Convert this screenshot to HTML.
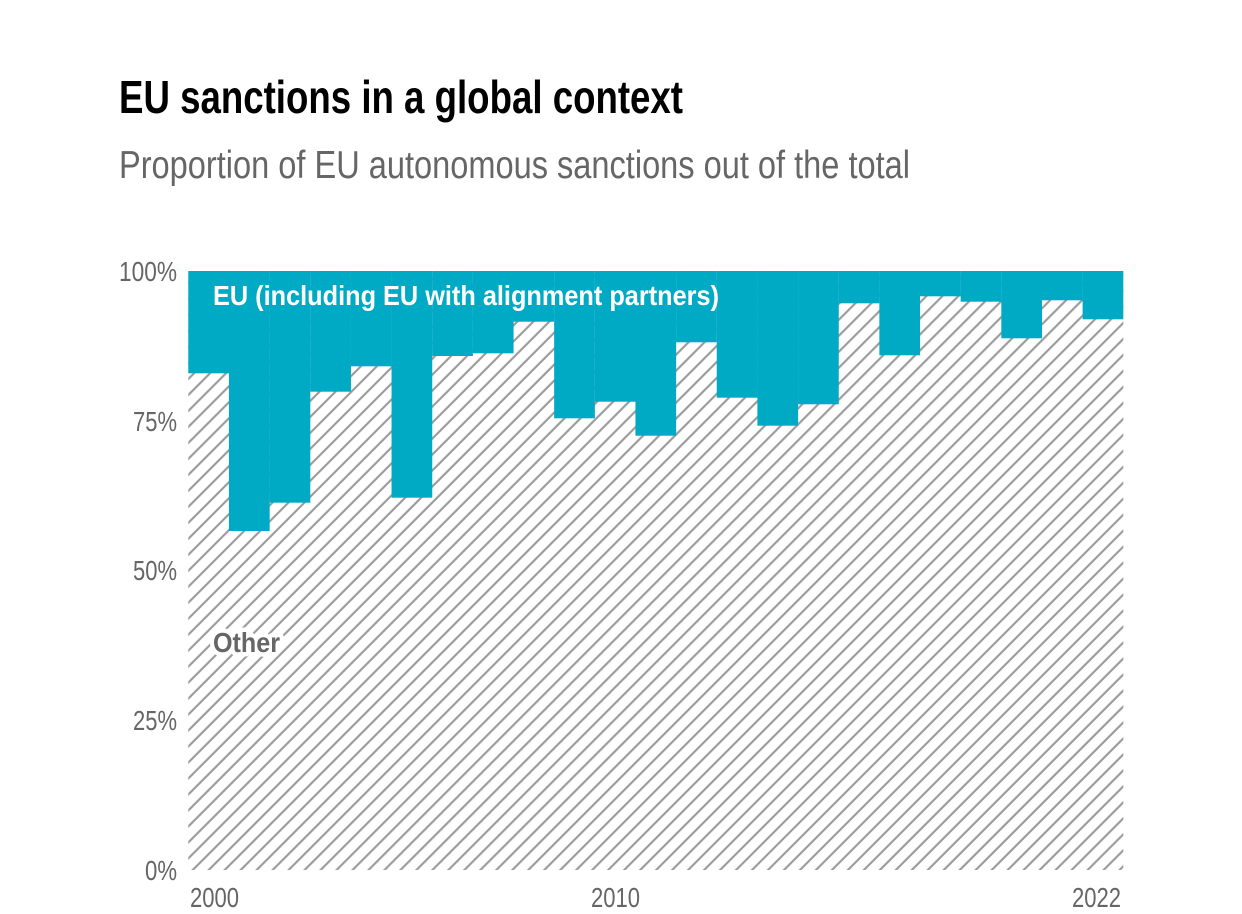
<!DOCTYPE html>
<html>
<head>
<meta charset="utf-8">
<style>
  html,body{margin:0;padding:0;background:#fff;}
  svg{display:block;}
  text{font-family:"Liberation Sans Narrow","Liberation Sans",sans-serif;}
</style>
</head>
<body>
<svg width="1242" height="914" viewBox="0 0 1242 914" xmlns="http://www.w3.org/2000/svg">
  <defs>
    <pattern id="hatch" patternUnits="userSpaceOnUse" width="11.3" height="11.3" patternTransform="rotate(45)">
      <rect width="11.3" height="11.3" fill="#fff"/>
      <line x1="5.65" y1="0" x2="5.65" y2="11.3" stroke="#999" stroke-width="2.1"/>
    </pattern>
  </defs>
  <rect width="1242" height="914" fill="#fff"/>

  <text x="119" y="113" font-size="46" font-weight="bold" fill="#000" textLength="564" lengthAdjust="spacingAndGlyphs">EU sanctions in a global context</text>
  <text x="119" y="178" font-size="39" fill="#666" textLength="791" lengthAdjust="spacingAndGlyphs">Proportion of EU autonomous sanctions out of the total</text>

  <!-- hatch background -->
  <rect x="188.3" y="271" width="935" height="599" fill="url(#hatch)"/>

  <!-- EU bars -->
  <g fill="#00aac4">
    <rect x="188.3" y="271" width="40.7" height="102.3"/>
    <rect x="228.95" y="271" width="40.7" height="260"/>
    <rect x="269.6" y="271" width="40.7" height="231.7"/>
    <rect x="310.25" y="271" width="40.7" height="120.7"/>
    <rect x="350.9" y="271" width="40.7" height="95.3"/>
    <rect x="391.55" y="271" width="40.7" height="226.7"/>
    <rect x="432.2" y="271" width="40.7" height="85"/>
    <rect x="472.85" y="271" width="40.7" height="82.3"/>
    <rect x="513.5" y="271" width="40.7" height="50.7"/>
    <rect x="554.15" y="271" width="40.7" height="147.3"/>
    <rect x="594.8" y="271" width="40.7" height="130.7"/>
    <rect x="635.45" y="271" width="40.7" height="164.7"/>
    <rect x="676.1" y="271" width="40.7" height="71.3"/>
    <rect x="716.75" y="271" width="40.7" height="126.7"/>
    <rect x="757.4" y="271" width="40.7" height="154.7"/>
    <rect x="798.05" y="271" width="40.7" height="133.3"/>
    <rect x="838.7" y="271" width="40.7" height="32.3"/>
    <rect x="879.35" y="271" width="40.7" height="84.3"/>
    <rect x="920" y="271" width="40.7" height="25.3"/>
    <rect x="960.65" y="271" width="40.7" height="30.7"/>
    <rect x="1001.3" y="271" width="40.7" height="67.3"/>
    <rect x="1041.95" y="271" width="40.7" height="29.3"/>
    <rect x="1082.6" y="271" width="40.7" height="48.3"/>
  </g>

  <!-- y axis labels -->
  <g font-size="28" fill="#666" text-anchor="end">
    <text x="177" y="281" textLength="58" lengthAdjust="spacingAndGlyphs">100%</text>
    <text x="177" y="431" textLength="44" lengthAdjust="spacingAndGlyphs">75%</text>
    <text x="177" y="580" textLength="44" lengthAdjust="spacingAndGlyphs">50%</text>
    <text x="177" y="730" textLength="44" lengthAdjust="spacingAndGlyphs">25%</text>
    <text x="177" y="880" textLength="32" lengthAdjust="spacingAndGlyphs">0%</text>
  </g>

  <!-- x axis labels -->
  <g font-size="28" fill="#666">
    <text x="190" y="907" textLength="49" lengthAdjust="spacingAndGlyphs">2000</text>
    <text x="591" y="907" textLength="49" lengthAdjust="spacingAndGlyphs">2010</text>
    <text x="1072" y="907" textLength="49" lengthAdjust="spacingAndGlyphs">2022</text>
  </g>

  <!-- series labels -->
  <text x="213" y="305" font-size="28" font-weight="bold" fill="#fff" textLength="506" lengthAdjust="spacingAndGlyphs">EU (including EU with alignment partners)</text>
  <text x="213" y="652" font-size="28" font-weight="bold" fill="#666" stroke="#fff" stroke-width="9" stroke-linejoin="round" paint-order="stroke" textLength="67" lengthAdjust="spacingAndGlyphs">Other</text>
</svg>
</body>
</html>
